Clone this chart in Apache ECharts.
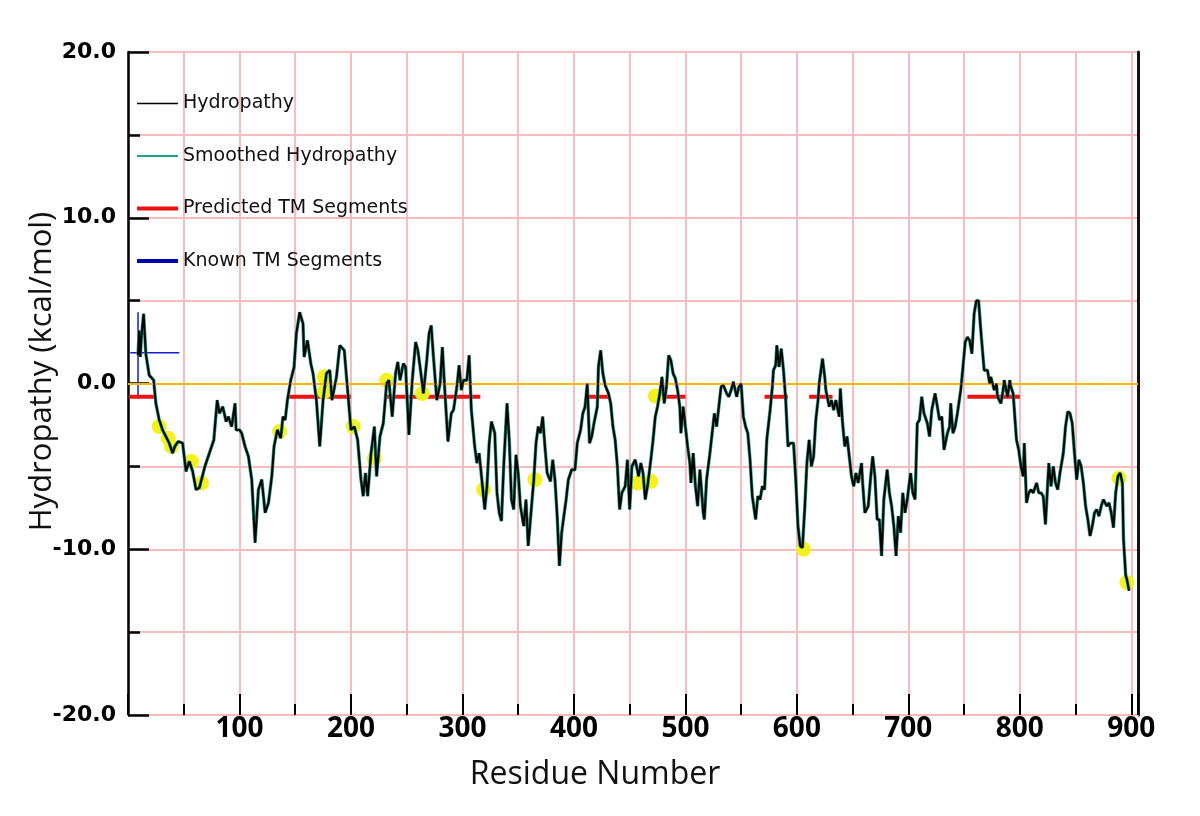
<!DOCTYPE html>
<html>
<head>
<meta charset="utf-8">
<script src="https://cdn.jsdelivr.net/npm/echarts@6/dist/echarts.min.js"></script>
<style>html,body{margin:0;padding:0;background:#fff}#c{width:1200px;height:816px}</style>
</head>
<body>
<div id="c"></div>
<script>
// ---- data ----
const residues = [9,10,11,12,14,16,19,23,25,28,31,34,37,40,42,45,49,52,55,58,61,64,69,73,77,80,82,85,88,90,93,96,97,100,102,105,108,111,114,117,120,123,126,129,131,134,137,139,141,143,146,149,151,154,157,158,161,164,166,169,172,175,178,181,183,187,190,194,197,200,203,206,209,211,213,215,218,221,223,226,229,232,234,237,240,242,244,247,249,252,255,258,260,262,265,268,270,272,274,277,280,282,284,287,290,292,295,297,299,301,304,306,308,311,313,315,318,320,322,324,326,329,331,333,335,337,340,342,344,346,348,350,352,355,357,359,361,364,366,368,370,372,374,376,379,381,383,385,387,389,391,393,395,398,401,403,406,408,410,412,414,416,418,421,422,424,426,428,431,433,435,437,439,441,443,446,448,450,452,455,458,460,462,464,466,469,471,473,475,477,479,481,483,485,487,489,491,493,495,496,498,500,502,504,505,507,509,511,513,516,517,519,522,524,526,528,530,532,534,537,539,541,543,546,548,550,552,554,556,558,560,563,565,567,569,571,573,576,578,579,581,582,584,586,588,590,592,594,597,599,601,603,605,607,609,611,613,615,617,619,620,623,625,626,629,631,633,635,638,639,641,643,645,647,649,651,653,655,658,659,661,664,666,668,670,672,674,676,678,681,683,685,687,689,691,693,695,697,699,702,704,706,708,710,712,714,717,719,721,724,726,728,730,732,735,737,738,740,742,744,747,749,751,753,755,757,759,761,763,765,767,768,771,773,774,777,779,780,783,785,786,789,791,792,794,797,799,801,803,804,806,808,810,812,815,817,819,821,823,826,828,830,832,834,836,839,841,843,845,847,849,851,853,855,857,859,861,863,865,867,869,871,873,875,878,880,882,884,886,888,890,892,893,895,896,898];
const hydropathy = [1.7,3.2,1.6,2.8,4.2,1.8,0.5,0.2,-1.2,-2.2,-2.8,-3.2,-3.6,-4.2,-3.8,-3.5,-3.6,-5.3,-4.7,-5.3,-6.4,-6.3,-5.0,-4.2,-3.4,-1.0,-1.8,-1.4,-2.3,-2.0,-2.6,-1.2,-2.8,-2.8,-3.0,-3.8,-4.4,-5.8,-9.6,-6.4,-5.8,-7.8,-7.2,-5.6,-3.8,-2.8,-3.3,-2.0,-2.2,-1.0,0.2,1.0,3.0,4.3,3.6,1.6,2.6,1.2,0.6,-1.0,-3.8,-1.0,0.6,0.8,-1.0,0.4,2.3,2.0,-0.4,-2.8,-2.6,-3.4,-5.8,-6.8,-5.4,-6.8,-4.2,-2.6,-5.6,-3.2,-2.4,0.0,0.2,-2.0,0.6,1.3,0.2,1.2,1.0,-3.1,0.2,2.5,2.0,1.0,-0.6,1.4,3.0,3.5,1.6,-1.0,0.0,2.2,-0.2,-3.5,-1.8,-1.6,-0.2,1.1,-0.4,0.2,0.2,1.7,-1.6,-3.8,-4.8,-4.2,-6.2,-7.6,-6.2,-3.6,-2.3,-3.0,-6.6,-7.8,-8.3,-5.0,-1.2,-3.4,-7.0,-7.6,-4.3,-5.4,-7.4,-8.6,-7.0,-9.8,-8.2,-5.8,-3.6,-2.6,-3.0,-2.0,-3.8,-5.4,-5.9,-4.6,-5.8,-8.0,-11.0,-9.0,-8.0,-7.0,-5.8,-5.2,-5.2,-3.6,-2.8,-1.8,-1.4,0.0,-3.6,-3.2,-2.4,-1.4,1.0,2.0,0.6,-0.1,-0.6,-1.2,-2.6,-3.4,-5.0,-7.6,-6.6,-6.2,-4.6,-7.6,-5.0,-4.6,-5.6,-4.8,-5.4,-7.0,-6.2,-4.6,-3.4,-2.0,-1.4,-0.6,0.4,-1.2,-0.2,1.7,1.4,0.6,0.3,-0.4,-1.4,-3.0,-1.4,-2.6,-3.8,-4.8,-6.0,-4.2,-6.2,-7.4,-5.2,-7.8,-8.2,-5.8,-4.2,-3.0,-1.8,-2.6,-1.4,-0.2,-0.1,-0.6,-0.8,-0.4,0.1,-0.8,-0.2,0.0,-2.0,-2.6,-3.0,-4.6,-6.8,-8.2,-6.8,-7.0,-6.2,-6.4,-3.4,-1.6,-0.2,0.8,1.1,2.3,1.0,2.1,0.8,-1.0,-3.8,-3.6,-3.6,-5.8,-8.6,-9.8,-9.9,-7.6,-4.8,-3.4,-5.0,-4.4,-2.2,-1.0,0.0,1.5,0.4,-0.4,-1.4,-1.0,-1.6,-1.0,-2.0,-0.3,-2.4,-3.8,-3.2,-4.4,-5.6,-6.2,-5.4,-6.0,-4.8,-6.0,-7.8,-7.4,-5.8,-4.4,-5.6,-8.2,-8.2,-10.4,-7.0,-5.2,-6.6,-7.4,-8.6,-10.4,-8.0,-9.0,-6.6,-7.8,-7.0,-5.4,-6.6,-7.0,-2.4,-2.2,-0.8,-1.8,-2.4,-3.2,-1.6,-0.6,-1.4,-2.2,-2.0,-4.0,-3.0,-2.6,-1.2,-3.0,-2.6,-1.8,-0.4,1.0,2.5,2.8,2.6,1.8,4.2,5.0,5.0,3.2,1.6,0.8,0.8,0.0,0.4,-0.4,0.0,-0.8,-1.2,-0.4,0.2,-0.8,0.2,-0.2,-0.6,-3.4,-4.0,-5.0,-5.6,-3.6,-7.2,-6.6,-6.4,-6.6,-6.0,-6.6,-6.6,-6.8,-8.5,-4.8,-6.2,-5.0,-6.0,-6.4,-5.4,-4.2,-2.6,-1.7,-1.8,-2.4,-4.2,-5.8,-4.6,-5.0,-6.0,-7.4,-8.2,-9.2,-8.6,-7.8,-7.6,-8.0,-7.4,-7.0,-7.4,-7.2,-7.8,-8.7,-6.6,-5.6,-5.4,-6.0,-9.4,-11.6,-11.8,-12.5];
const smoothed = hydropathy;   // the smoothed curve lies on top of the raw one in the picture

const predStart = [1, 143, 231, 413, 473, 571, 611, 753];
const predEnd   = [24, 200, 316, 432, 500, 592, 632, 800];
const predLevel = -0.8;

// known TM marks (vertical + horizontal strokes near the N-terminus)
const knownSegs = [[[9, 4.3], [9, -0.7]], [[2, 1.85], [46, 1.85]]];

const markRes = [28, 36, 39, 57, 66, 136, 176, 176, 202, 221, 232, 264, 319, 365, 457, 469, 473, 606, 889, 896];
const markVal = [-2.6, -3.3, -3.8, -4.7, -6.0, -2.9, 0.4, -0.5, -2.6, -4.5, 0.2, -0.6, -6.4, -5.8, -6.0, -5.9, -0.75, -10.0, -5.7, -12.0];

const xTickLabels = [100, 200, 300, 400, 500, 600, 700, 800, 900];
const yTickLabels = ['-20.0', '-10.0', '0.0', '10.0', '20.0'];

// ---- build ----
const rawData = residues.map((r, i) => [r, hydropathy[i]]);
const smoothData = residues.map((r, i) => [r, smoothed[i]]);
const predData = [];
predStart.forEach((s, i) => { predData.push([s, predLevel], [predEnd[i], predLevel], [predEnd[i], '-']); });
const knownData = [];
knownSegs.forEach(seg => { knownData.push(seg[0], seg[1], [seg[1][0], '-']); });
const markData = markRes.map((r, i) => [r, markVal[i]]);

const PINK = '#f9bcbc';
const NOSYM = { color: 'rgba(0,0,0,0)', opacity: 0, borderWidth: 0 };
const chart = echarts.init(document.getElementById('c'), null, { renderer: 'canvas' });
chart.setOption({
  animation: false,
  backgroundColor: '#ffffff',
  grid: { left: 128, right: 62, top: 52, bottom: 101, containLabel: false },
  legend: {
    orient: 'vertical', left: 135, top: 94, padding: 0,
    itemWidth: 41, itemHeight: 14, itemGap: 33.5,
    textStyle: { fontFamily: 'DejaVu Sans', fontSize: 19, color: '#111' },
    data: [
      { name: 'Hydropathy', itemStyle: NOSYM, lineStyle: { width: 1.5, color: '#000' } },
      { name: 'Smoothed Hydropathy', itemStyle: NOSYM, lineStyle: { width: 2, color: '#20a088' } },
      { name: 'Predicted TM Segments', itemStyle: NOSYM, lineStyle: { width: 4, color: '#ee1111' } },
      { name: 'Known TM Segments', itemStyle: NOSYM, lineStyle: { width: 4, color: '#0000aa' } }
    ]
  },
  xAxis: {
    type: 'value', min: 0, max: 906, interval: 100,
    name: 'Residue Number', nameLocation: 'middle', nameGap: 44, nameMoveOverlap: false,
    nameTextStyle: { fontFamily: 'Open Sans', fontSize: 32, color: '#111', padding: [0, 76, 0, 0] },
    axisLine: { show: true, onZero: false, lineStyle: { color: PINK, width: 2 } },
    axisTick: { show: true, inside: true, length: 21, lineStyle: { color: '#000', width: 2 } },
    minorTick: { show: true, splitNumber: 2, length: 11, lineStyle: { color: '#000', width: 2 } },
    splitLine: { show: true, lineStyle: { color: PINK, width: 2 } },
    minorSplitLine: { show: true, lineStyle: { color: PINK, width: 2 } },
    axisLabel: {
      margin: 0, fontFamily: 'Open Sans', fontWeight: 'bold', fontSize: 28, color: '#000',
      formatter: v => (xTickLabels.indexOf(v) >= 0 ? String(v) : '')
    }
  },
  yAxis: [{
    type: 'value', min: -20, max: 20, interval: 10,
    name: 'Hydropathy (kcal/mol)', nameLocation: 'middle', nameGap: 70, nameRotate: 90, nameMoveOverlap: false,
    nameTextStyle: { fontFamily: 'Open Sans', fontSize: 31, color: '#111', padding: [0, 0, 0, 24] },
    axisLine: { show: true, onZero: false, lineStyle: { color: '#000', width: 2.5 } },
    axisTick: { show: true, inside: true, length: 21, lineStyle: { color: '#000', width: 2.5 } },
    minorTick: { show: true, splitNumber: 2, length: 12, lineStyle: { color: '#000', width: 2.5 } },
    splitLine: { show: true, lineStyle: { color: PINK, width: 2 } },
    minorSplitLine: { show: true, lineStyle: { color: PINK, width: 2 } },
    axisLabel: {
      margin: 12, fontFamily: 'DejaVu Sans', fontWeight: 'bold', fontSize: 22, color: '#000',
      formatter: v => { const s = v.toFixed(1); return yTickLabels.indexOf(s) >= 0 ? s : ''; }
    }
  }, {
    type: 'value', min: -20, max: 20, position: 'right',
    axisLine: { show: true, onZero: false, lineStyle: { color: '#111', width: 3 } },
    axisTick: { show: false }, axisLabel: { show: false }, splitLine: { show: false }
  }],
  series: [
    {
      name: 'Predicted TM Segments', type: 'line', data: predData, z: 2,
      symbol: 'none', connectNulls: false,
      lineStyle: { color: '#ee1111', width: 4 }, itemStyle: { color: '#ee1111' },
      markLine: {
        silent: true, symbol: 'none', label: { show: false },
        lineStyle: { color: '#f5b800', width: 2, type: 'solid' },
        data: [{ yAxis: 0 }]
      }
    },
    {
      name: 'Known TM Segments', type: 'line', data: knownData, z: 2,
      symbol: 'none', connectNulls: false,
      lineStyle: { color: '#1a1ad0', width: 1.5 }, itemStyle: { color: '#0000aa' }
    },
    {
      name: 'marks', type: 'scatter', data: markData, z: 3,
      symbolSize: 15, itemStyle: { color: '#f6f01e', opacity: 1 }
    },
    {
      name: 'Smoothed Hydropathy', type: 'line', data: smoothData, z: 4,
      symbol: 'none', lineStyle: { color: '#20a088', width: 3.4 }, itemStyle: { color: '#20a088' }
    },
    {
      name: 'Hydropathy', type: 'line', data: rawData, z: 5,
      symbol: 'none', lineStyle: { color: '#000', width: 2 }, itemStyle: { color: '#000' }
    }
  ]
});
</script>
</body>
</html>
